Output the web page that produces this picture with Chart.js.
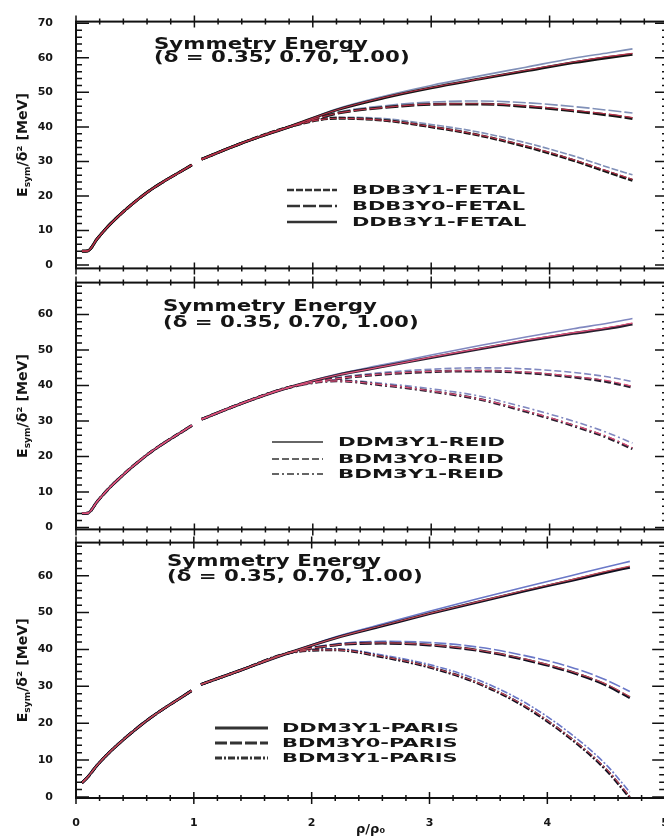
<!DOCTYPE html>
<html lang="en">
<head>
    <meta charset="UTF-8">
    <title>Symmetry Energy</title>
    <script src="https://cdn.jsdelivr.net/npm/chart.js"></script>
    <style>
        * { margin: 0; padding: 0; box-sizing: border-box; }
        body { background: #fff; width: 664px; height: 837px; overflow: hidden; }
        .wrap { position: relative; width: 664px; height: 837px; overflow: hidden; }
        .panel { position: absolute; left: 0; width: 680px; }
    </style>
</head>
<body>
<div class="wrap">
    <div class="panel" style="top:0px;height:290px"><canvas id="c1" width="680" height="290"></canvas></div>
    <div class="panel" style="top:261px;height:290px"><canvas id="c2" width="680" height="290"></canvas></div>
    <div class="panel" style="top:521px;height:316px"><canvas id="c3" width="680" height="316"></canvas></div>
</div>
<script>
// density grid (rho/rho0); the null at 1.02 is the break seen in every curve
const rhoLow  = [0.05, 0.1, 0.18, 0.3, 0.6, 0.98, 1.02, 1.06, 1.4, 1.8];
const rhoHigh = [2.2, 2.6, 3.0, 3.4, 3.8, 4.2, 4.5, 4.7];
const xTicks = [0, 1, 2, 3, 4, 5];
const yTicks70 = [0, 10, 20, 30, 40, 50, 60, 70];
const yTicks60 = [0, 10, 20, 30, 40, 50, 60];

// ---- FETAL (top panel) ----
const fetalLow = [4.0, 4.1, 7.6, 12.2, 21.0, 29.0, null, 30.6, 35.3, 40.0];
const fetalDD_035 = [45.2, 48.9, 52.0, 54.7, 57.3, 59.9, 61.5, 62.6];
const fetalDD_070 = [44.9, 48.5, 51.4, 53.9, 56.4, 58.8, 60.4, 61.3];
const fetalDD_100 = [44.9, 48.4, 51.3, 53.8, 56.2, 58.6, 60.1, 61.0];
const fetalB0_035 = [44.2, 46.1, 47.2, 47.5, 47.0, 45.9, 44.8, 44.0];
const fetalB0_070 = [43.9, 45.6, 46.6, 46.7, 46.1, 44.8, 43.7, 42.7];
const fetalB0_100 = [43.9, 45.6, 46.5, 46.6, 45.9, 44.6, 43.4, 42.4];
const fetalB1_035 = [42.8, 42.4, 40.7, 38.5, 35.4, 31.6, 28.2, 26.1];
const fetalB1_070 = [42.5, 41.9, 40.1, 37.7, 34.5, 30.5, 27.1, 24.8];
const fetalB1_100 = [42.5, 41.9, 40.0, 37.6, 34.3, 30.3, 26.8, 24.5];

// ---- REID (middle panel) ----
const reidLow = [4.0, 4.1, 7.4, 11.8, 20.5, 28.8, null, 30.5, 35.0, 39.5];
const reidDD_035 = [43.2, 45.9, 48.6, 51.2, 53.7, 56.0, 57.6, 58.9];
const reidDD_070 = [42.9, 45.4, 48.0, 50.4, 52.8, 54.9, 56.4, 57.6];
const reidDD_100 = [42.9, 45.4, 47.9, 50.3, 52.6, 54.7, 56.1, 57.3];
const reidB0_035 = [42.2, 43.7, 44.6, 45.0, 44.7, 43.7, 42.4, 41.1];
const reidB0_070 = [41.9, 43.3, 44.0, 44.2, 43.8, 42.6, 41.3, 39.8];
const reidB0_100 = [41.9, 43.2, 43.9, 44.1, 43.6, 42.4, 41.0, 39.5];
const reidB1_035 = [41.6, 40.6, 39.1, 37.1, 33.8, 30.0, 26.6, 23.8];
const reidB1_070 = [41.3, 40.2, 38.5, 36.3, 32.9, 28.9, 25.5, 22.5];
const reidB1_100 = [41.3, 40.1, 38.4, 36.2, 32.7, 28.7, 25.2, 22.2];

// ---- PARIS (bottom panel) ----
const parisLow = [3.8, 5.4, 8.6, 12.6, 20.7, 28.8, null, 30.5, 34.4, 39.0];
const parisDD_035 = [43.4, 46.9, 50.4, 53.7, 56.9, 60.0, 62.4, 63.9];
const parisDD_070 = [43.1, 46.5, 49.8, 52.9, 56.0, 58.9, 61.2, 62.6];
const parisDD_100 = [43.1, 46.4, 49.7, 52.8, 55.8, 58.7, 60.9, 62.3];
const parisB0_035 = [41.5, 42.2, 41.9, 40.7, 38.4, 35.2, 31.7, 28.6];
const parisB0_070 = [41.2, 41.8, 41.3, 39.9, 37.5, 34.1, 30.6, 27.2];
const parisB0_100 = [41.2, 41.7, 41.2, 39.8, 37.3, 33.9, 30.3, 26.9];
const parisB1_035 = [40.2, 38.5, 35.9, 31.9, 25.8, 17.1, 8.7, 1.3];
const parisB1_070 = [39.9, 38.1, 35.3, 31.1, 24.9, 16.0, 7.6, 0.1];
const parisB1_100 = [39.9, 38.0, 35.2, 31.0, 24.7, 15.8, 7.3, -0.2];

const deltaLabels = ['0.35', '0.70', '1.00'];

const panels = [
    {
        id: 'c1', yTicks: yTicks70, min: -1, max: 70.5, low: fetalLow, xLabels: false,
        colors: ['#8090b8', '#b8324a', '#151515'],
        note: { x: 154, y: [45, 58] },
        legend: { x0: 287, x1: 337, tx: 352, rows: [190, 206, 222], width: 173, lw: 2.4 },
        models: [
            { label: 'BDB3Y1-FETAL', dash: [7, 2], curves: [fetalB1_035, fetalB1_070, fetalB1_100] },
            { label: 'BDB3Y0-FETAL', dash: [13, 3], curves: [fetalB0_035, fetalB0_070, fetalB0_100] },
            { label: 'DDB3Y1-FETAL', dash: [], curves: [fetalDD_035, fetalDD_070, fetalDD_100] }
        ]
    },
    {
        id: 'c2', yTicks: yTicks60, min: -0.5, max: 69, low: reidLow, xLabels: false,
        colors: ['#8088c0', '#e0507a', '#2a2030'],
        note: { x: 163, y: [46, 62] },
        legend: { x0: 272, x1: 323, tx: 338, rows: [181, 198, 213], width: 167, lw: 1.6 },
        models: [
            { label: 'DDM3Y1-REID', dash: [], curves: [reidDD_035, reidDD_070, reidDD_100] },
            { label: 'BDM3Y0-REID', dash: [7, 3], curves: [reidB0_035, reidB0_070, reidB0_100] },
            { label: 'BDM3Y1-REID', dash: [7, 3, 2, 3], curves: [reidB1_035, reidB1_070, reidB1_100] }
        ]
    },
    {
        id: 'c3', yTicks: yTicks60, min: -0.3, max: 69, low: parisLow, xLabels: true,
        colors: ['#6a78c8', '#c04858', '#101020'],
        note: { x: 167, y: [41, 56] },
        legend: { x0: 215, x1: 268, tx: 282, rows: [207, 222, 237], width: 177, lw: 3 },
        models: [
            { label: 'DDM3Y1-PARIS', dash: [], curves: [parisDD_035, parisDD_070, parisDD_100] },
            { label: 'BDM3Y0-PARIS', dash: [12, 3], curves: [parisB0_035, parisB0_070, parisB0_100] },
            { label: 'BDM3Y1-PARIS', dash: [7, 2, 2, 2], curves: [parisB1_035, parisB1_070, parisB1_100] }
        ]
    }
];

const FONT = '"DejaVu Sans", Verdana, sans-serif';

function toPoints(low, high) {
    const rho = rhoLow.concat(rhoHigh);
    const vals = low.concat(high);
    return rho.map((r, i) => ({ x: r, y: vals[i] }));
}

function stretched(ctx, text, x, y, sx) {
    ctx.save();
    ctx.translate(x, y);
    ctx.scale(sx, 1);
    ctx.fillText(text, 0, 0);
    ctx.restore();
}

// frame with inward ticks on all four sides
const framePlugin = {
    id: 'frame',
    afterDraw(chart) {
        const { ctx, chartArea: a, scales: { x, y } } = chart;
        ctx.save();
        ctx.strokeStyle = '#111';
        ctx.lineWidth = 2;
        ctx.strokeRect(a.left, a.top, a.right - a.left, a.bottom - a.top);
        ctx.lineWidth = 1.5;
        ctx.beginPath();
        for (let i = 0; i <= 25; i++) {
            const px = x.getPixelForValue(i * 0.2);
            const len = i % 5 === 0 ? 6 : 3;
            ctx.moveTo(px, a.bottom - len); ctx.lineTo(px, a.bottom + len);
            ctx.moveTo(px, a.top - len); ctx.lineTo(px, a.top + len);
        }
        for (let v = 0; v <= y.max; v += 2) {
            const py = y.getPixelForValue(v);
            const len = v % 10 === 0 ? 13 : 6;
            ctx.moveTo(a.left, py); ctx.lineTo(a.left + len, py);
            ctx.moveTo(a.right, py); ctx.lineTo(a.right - len, py);
        }
        ctx.stroke();
        ctx.restore();
    }
};

// annotation, legend and rotated y title
const textPlugin = {
    id: 'texts',
    afterDraw(chart, args, opts) {
        const p = opts.panel;
        const { ctx, chartArea: a } = chart;
        ctx.save();
        ctx.fillStyle = '#151515';
        ctx.textBaseline = 'middle';

        ctx.font = 'bold 15px ' + FONT;
        const sNote = 214 / ctx.measureText('Symmetry Energy').width;
        stretched(ctx, 'Symmetry Energy', p.note.x, p.note.y[0], sNote);
        stretched(ctx, '(\u03b4 = ' + deltaLabels.join(', ') + ')', p.note.x, p.note.y[1], sNote);

        const lg = p.legend;
        ctx.font = 'bold 13px ' + FONT;
        const sLeg = lg.width / ctx.measureText(p.models[0].label).width;
        p.models.forEach((m, i) => {
            const yy = lg.rows[i];
            ctx.save();
            ctx.strokeStyle = '#333';
            ctx.lineWidth = lg.lw;
            ctx.setLineDash(m.dash);
            ctx.beginPath();
            ctx.moveTo(lg.x0, yy); ctx.lineTo(lg.x1, yy);
            ctx.stroke();
            ctx.restore();
            stretched(ctx, m.label, lg.tx, yy + 1, sLeg);
        });

        // E_sym/δ² [MeV]
        ctx.save();
        ctx.translate(22, (a.top + a.bottom) / 2);
        ctx.rotate(-Math.PI / 2);
        ctx.textBaseline = 'alphabetic';
        const parts = [['E', 'bold 14px ', 0], ['sym', 'bold 9px ', 3], ['/\u03b4\u00b2 [MeV]', 'bold 14px ', 0]];
        let total = 0;
        parts.forEach(pt => { ctx.font = pt[1] + FONT; total += ctx.measureText(pt[0]).width; });
        const sy = 104 / total;
        ctx.scale(sy, 1);
        let cx = -total / 2;
        parts.forEach(pt => {
            ctx.font = pt[1] + FONT;
            ctx.fillText(pt[0], cx, 5 + pt[2]);
            cx += ctx.measureText(pt[0]).width;
        });
        ctx.restore();

        ctx.restore();
    }
};

function buildChart(p) {
    const datasets = [];
    p.models.forEach(m => {
        m.curves.forEach((c, k) => {
            datasets.push({
                label: m.label + ' \u03b4=' + deltaLabels[k],
                data: toPoints(p.low, c),
                borderColor: p.colors[k],
                borderWidth: k === 2 ? 2.8 : (k === 1 ? 1.2 : 1.6),
                borderDash: m.dash,
                pointRadius: 0,
                fill: false,
                spanGaps: false,
                cubicInterpolationMode: 'monotone',
                order: k === 1 ? 0 : (k === 2 ? 1 : 2)
            });
        });
    });

    const tickFont = { family: FONT, weight: 'bold', size: 11 };
    const xScale = {
        type: 'linear', min: 0, max: 5,
        display: p.xLabels,
        grid: { display: false },
        border: { display: false },
        ticks: { font: tickFont, color: '#151515', padding: 11, maxRotation: 0 },
        afterBuildTicks: s => { s.ticks = xTicks.map(v => ({ value: v })); },
        title: { display: p.xLabels, text: '\u03c1/\u03c1\u2080', color: '#151515',
                 font: { family: FONT, weight: 'bold', size: 13 }, padding: { top: 0, bottom: 0 } }
    };
    if (p.xLabels) xScale.afterFit = s => { s.height = 39; };

    new Chart(document.getElementById(p.id), {
        type: 'line',
        data: { datasets },
        options: {
            responsive: false,
            devicePixelRatio: 1,
            animation: false,
            layout: { padding: { top: 14, right: 12, bottom: p.xLabels ? 0 : 14, left: 0 } },
            plugins: { legend: { display: false }, tooltip: { enabled: false }, texts: { panel: p } },
            scales: {
                x: xScale,
                y: {
                    type: 'linear', min: p.min, max: p.max,
                    grid: { display: false },
                    border: { display: false },
                    ticks: { font: tickFont, color: '#151515', padding: 15 },
                    afterBuildTicks: s => { s.ticks = p.yTicks.map(v => ({ value: v })); },
                    afterFit: s => { s.width = 76; }
                }
            }
        },
        plugins: [framePlugin, textPlugin]
    });
}

panels.forEach(buildChart);
</script>
</body>
</html>
